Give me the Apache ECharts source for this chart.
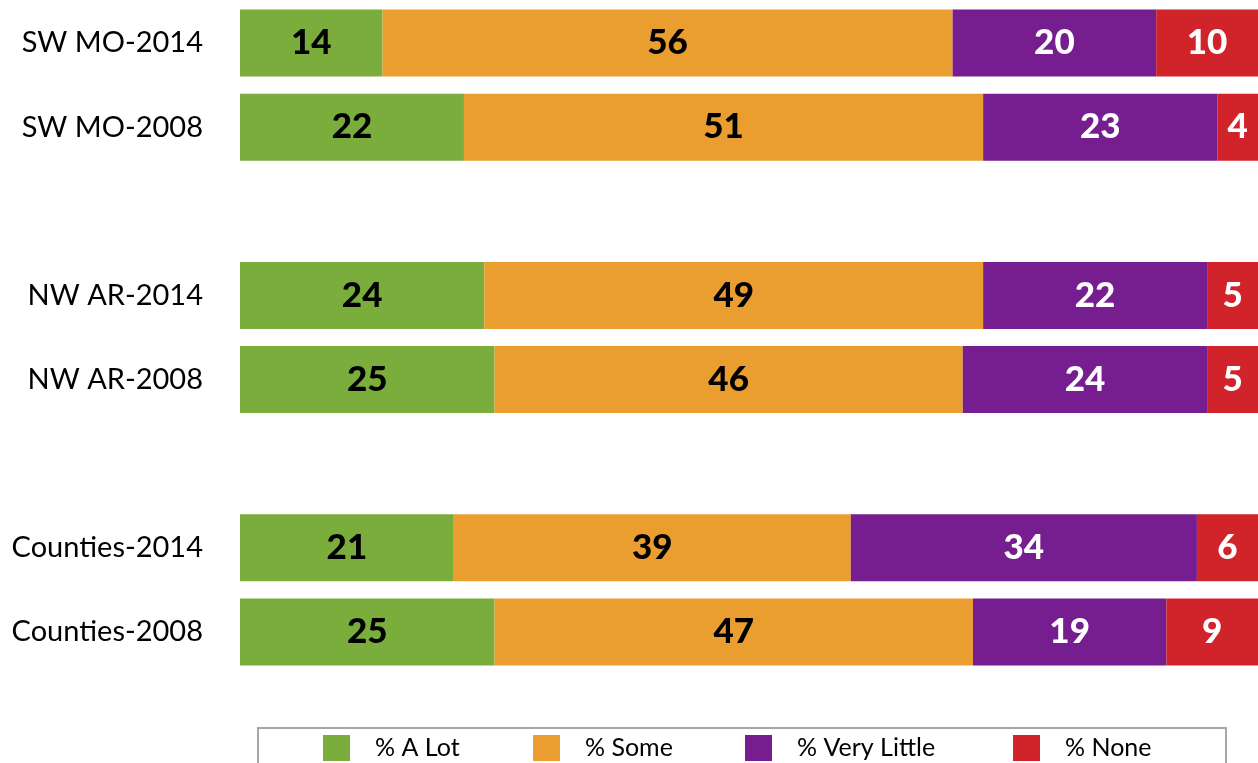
<!DOCTYPE html>
<html>
<head>
<meta charset="utf-8">
<title>Stacked bars</title>
<script src="https://cdn.jsdelivr.net/npm/echarts@6/dist/echarts.min.js"></script>
<style>
  html, body { margin: 0; padding: 0; background: #fff; }
  #chart { width: 1258px; height: 763px; }
</style>
</head>
<body>
<div id="chart"></div>
<script>
  // rows top to bottom, '' rows are the gaps between groups
  var categories = ["SW MO-2014", "SW MO-2008", "", "NW AR-2014", "NW AR-2008", "", "Counties-2014", "Counties-2008"];
  var aLot = [14, 22, "-", 24, 25, "-", 21, 25];
  var some = [56, 51, "-", 49, 46, "-", 39, 47];
  var veryLittle = [20, 23, "-", 22, 24, "-", 34, 19];
  var none = [10, 4, "-", 5, 5, "-", 6, 9];

  var seriesNames = ["% A Lot", "% Some", "% Very Little", "% None"];
  var seriesData = [aLot, some, veryLittle, none];
  var colors = ["#7AAD3C", "#EB9E30", "#761E8F", "#D1232A"];
  var labelColors = ["#000", "#000", "#fff", "#fff"];
  var legendLeft = [318, 528, 740, 1008];

  var font = "Lato, 'Open Sans', sans-serif";

  var chart = echarts.init(document.getElementById("chart"));

  var series = seriesNames.map(function (name, i) {
    return {
      name: name,
      type: "bar",
      stack: "total",
      barWidth: 67,
      data: seriesData[i],
      itemStyle: { color: colors[i] },
      label: {
        show: true,
        position: "inside",
        color: labelColors[i],
        fontFamily: font,
        fontWeight: 900,
        fontSize: 35
      },
      emphasis: { disabled: true }
    };
  });

  var legends = seriesNames.map(function (name, i) {
    return {
      data: [name],
      left: legendLeft[i],
      top: 730,
      itemWidth: 27,
      itemHeight: 26,
      icon: "rect",
      selectedMode: false,
      textStyle: {
        fontFamily: font,
        fontSize: 25,
        color: "#000",
        padding: [0, 0, 0, 20]
      }
    };
  });

  var option = {
    animation: false,
    grid: { left: 240, right: 0, top: 1, bottom: 89 },
    xAxis: {
      type: "value",
      min: 0,
      max: 100,
      show: false
    },
    yAxis: {
      type: "category",
      inverse: true,
      data: categories,
      axisLine: { show: false },
      axisTick: { show: false },
      axisLabel: {
        margin: 37,
        color: "#000",
        fontFamily: font,
        fontSize: 29
      }
    },
    legend: legends,
    graphic: [{
      type: "rect",
      shape: { x: 258, y: 728, width: 968, height: 60 },
      style: { fill: "none", stroke: "#A6A6A6", lineWidth: 2 },
      silent: true
    }],
    series: series
  };

  chart.setOption(option);
</script>
</body>
</html>
